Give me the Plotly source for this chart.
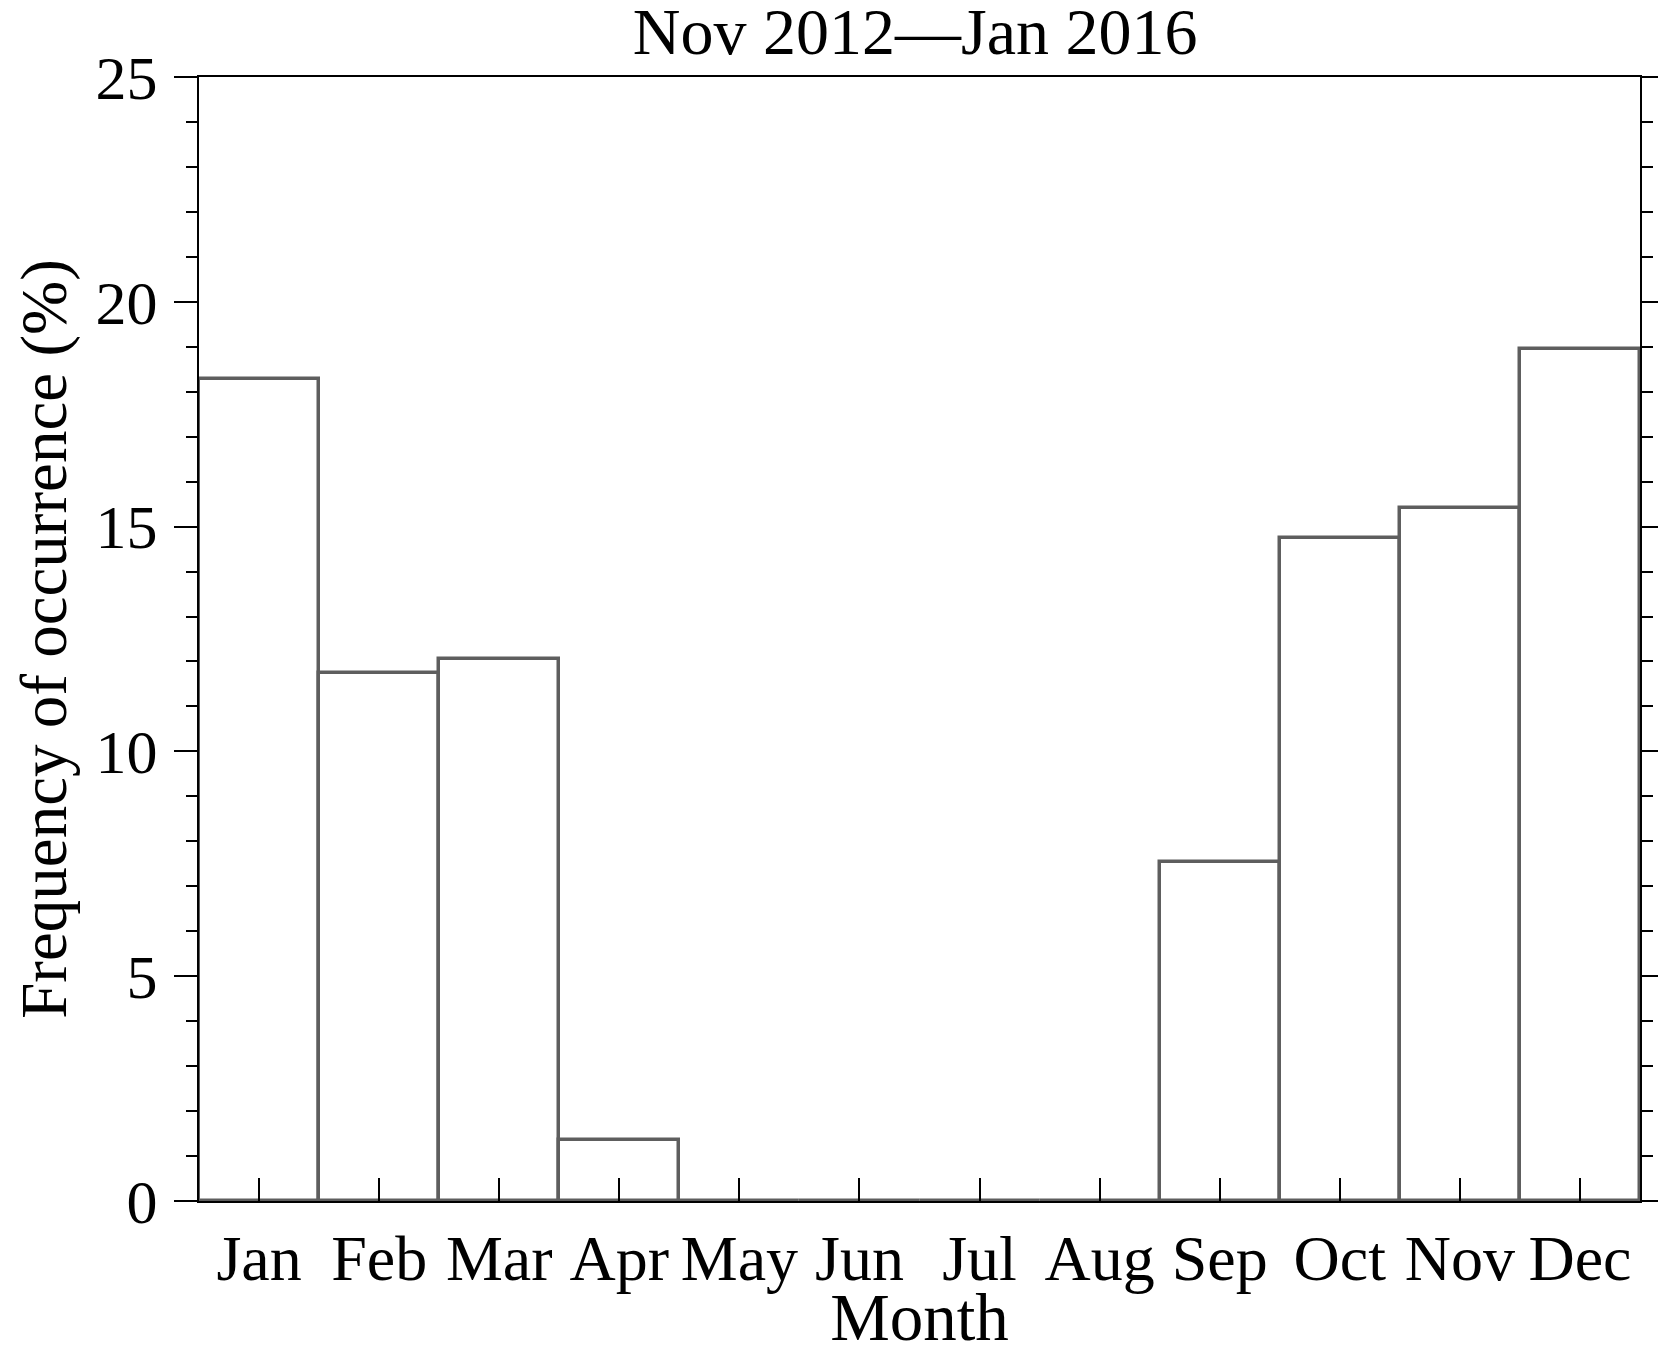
import plotly.graph_objects as go

# monthly frequency of occurrence (%), Nov 2012 - Jan 2016
months = ["Jan", "Feb", "Mar", "Apr", "May", "Jun", "Jul", "Aug", "Sep", "Oct", "Nov", "Dec"]
month_num = list(range(1, 13))
freq = [18.29, 11.74, 12.05, 1.35, 0.0, 0.0, 0.0, 0.0, 7.54, 14.74, 15.41, 18.95]
ytick_vals = [0, 5, 10, 15, 20, 25]
y_title = "Frequency of occurrence (%)"

FONT = "Liberation Serif"
BAR_LINE = "#5e5e5e"

fig = go.Figure()
fig.add_trace(go.Bar(x=month_num, y=freq, width=1.0,
                     marker=dict(color="white", line=dict(color=BAR_LINE, width=3.5)),
                     showlegend=False))

# page body adds an 8px offset, margins are set to compensate
fig.update_layout(
    width=1666, height=1346,
    margin=dict(l=191, r=34, t=69, b=153),
    plot_bgcolor="white", paper_bgcolor="white",
    font=dict(family=FONT, size=62, color="black"),
    title=dict(text="Nov 2012\u2014Jan 2016", x=0.497, xanchor="center", xref="paper",
               y=1, yref="container", yanchor="top", pad=dict(t=0), automargin=False,
               font=dict(family=FONT, size=66, color="black")),
    bargap=0,
)

fig.update_xaxes(
    range=[0.5, 12.5], tickvals=month_num, ticktext=months, tickfont=dict(size=64),
    ticks="inside", ticklen=23, tickwidth=1.5, tickcolor="black",
    showline=True, linecolor="black", linewidth=2, mirror=True,
    showgrid=False, zeroline=False, ticklabelstandoff=0, automargin=False,
    title=dict(text="Month", standoff=12, font=dict(family=FONT, size=67)),
)
fig.update_yaxes(
    range=[0, 25], tickvals=ytick_vals,
    ticks="outside", ticklen=23, tickwidth=2, tickcolor="black",
    minor=dict(dtick=1, ticks="outside", ticklen=11, tickwidth=2, tickcolor="black"),
    showline=True, linecolor="black", linewidth=2, mirror="ticks",
    showgrid=False, zeroline=False, ticklabelstandoff=4, automargin=False,
    title=dict(text=y_title, standoff=24, font=dict(family=FONT, size=65)),
)

fig.write_html("out.html")
